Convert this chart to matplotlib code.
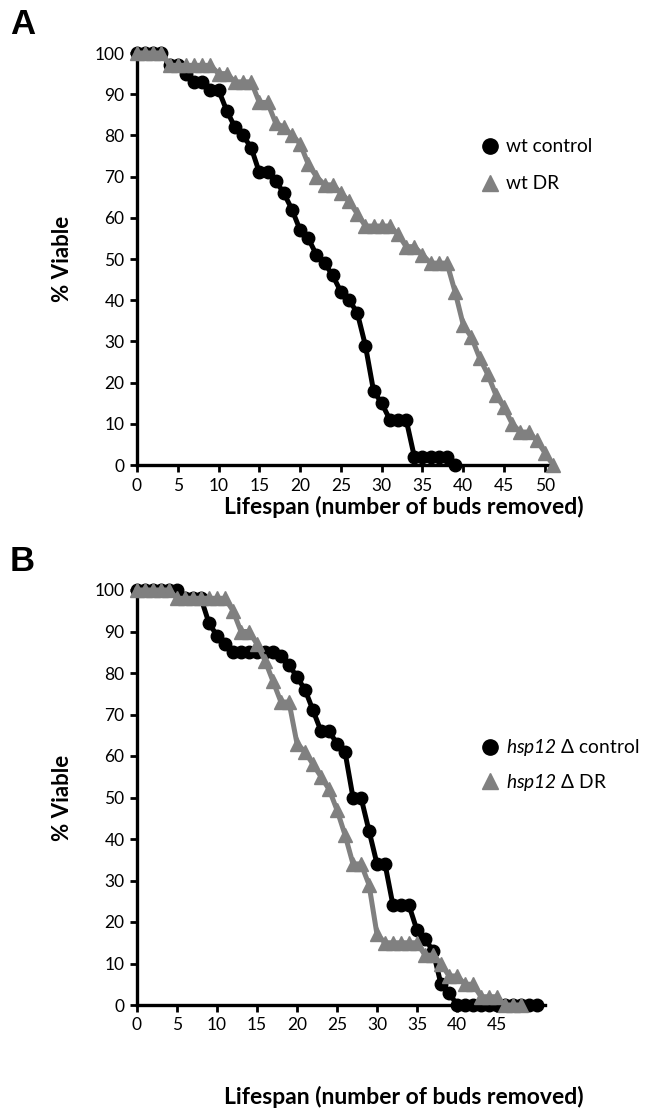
import matplotlib
matplotlib.use('Agg')
import matplotlib.pyplot as plt
from matplotlib.lines import Line2D

plt.rcParams['font.family'] = ['Lato', 'DejaVu Sans']
plt.rcParams['mathtext.fontset'] = 'custom'
plt.rcParams['mathtext.it'] = 'Lato:italic'
plt.rcParams['mathtext.rm'] = 'Lato:italic'

# --- Panel A: wild type ---
wt_ctrl_x = list(range(0, 40))
wt_ctrl_y = [100, 100, 100, 100, 97, 97, 95, 93, 93, 91,
             91, 86, 82, 80, 77, 71, 71, 69, 66, 62,
             57, 55, 51, 49, 46, 42, 40, 37, 29, 18,
             15, 11, 11, 11, 2, 2, 2, 2, 2, 0]

wt_dr_x = list(range(0, 52))
wt_dr_y = [100, 100, 100, 100, 97, 97, 97, 97, 97, 97,
           95, 95, 93, 93, 93, 88, 88, 83, 82, 80,
           78, 73, 70, 68, 68, 66, 64, 61, 58, 58,
           58, 58, 56, 53, 53, 51, 49, 49, 49, 42,
           34, 31, 26, 22, 17, 14, 10, 8, 8, 6,
           3, 0]

# --- Panel B: hsp12 deletion ---
hsp_ctrl_x = list(range(0, 51))
hsp_ctrl_y = [100, 100, 100, 100, 100, 100, 98, 98, 98, 92,
              89, 87, 85, 85, 85, 85, 85, 85, 84, 82,
              79, 76, 71, 66, 66, 63, 61, 50, 50, 42,
              34, 34, 24, 24, 24, 18, 16, 13, 5, 3,
              0, 0, 0, 0, 0, 0, 0, 0, 0, 0,
              0]

hsp_dr_x = list(range(0, 49))
hsp_dr_y = [100, 100, 100, 100, 100, 98, 98, 98, 98, 98,
            98, 98, 95, 90, 90, 87, 83, 78, 73, 73,
            63, 61, 58, 55, 52, 47, 41, 34, 34, 29,
            17, 15, 15, 15, 15, 15, 12, 12, 10, 7,
            7, 5, 5, 2, 2, 2, 0, 0, 0]

A_ticks = list(range(0, 51, 5))
B_ticks = list(range(0, 46, 5))
y_ticks = list(range(0, 101, 10))

W, H = 662, 1116
fig = plt.figure(figsize=(W / 100, H / 100), dpi=100)


def panel(rect, cx, cy, dx, dy, xticks, xmax, labels, leg_pos, leg_space, xlab_y):
    x0, y0, x1, y1 = rect
    ax = fig.add_axes([x0 / W, 1 - y1 / H, (x1 - x0) / W, (y1 - y0) / H])
    ax.plot(cx, cy, color='black', lw=3.6, marker='o', ms=9, clip_on=False, zorder=3)
    ax.plot(dx, dy, color='#808080', lw=3.6, marker='^', ms=9.5, clip_on=False, zorder=4)
    ax.set_xlim(0, xmax)
    ax.set_ylim(0, 100)
    ax.set_xticks(xticks)
    ax.set_yticks(y_ticks)
    for s in ['top', 'right']:
        ax.spines[s].set_visible(False)
    for s in ['left', 'bottom']:
        ax.spines[s].set_linewidth(2.4)
    ax.tick_params(width=2, length=5, labelsize=12.5, pad=4)
    ax.set_ylabel('% Viable', fontsize=16, fontweight='bold')
    ax.set_xlabel('Lifespan (number of buds removed)', fontsize=16.5, fontweight='bold')
    ax.yaxis.set_label_coords((73 - x0) / (x1 - x0), 0.5)
    ax.xaxis.set_label_coords((404 - x0) / (x1 - x0), (y1 - xlab_y) / (y1 - y0))
    handles = [Line2D([], [], color='black', marker='o', ls='none', ms=11),
               Line2D([], [], color='#808080', marker='^', ls='none', ms=11)]
    ax.legend(handles, labels, frameon=False, fontsize=13.75,
              bbox_to_anchor=(leg_pos[0] / W, 1 - leg_pos[1] / H),
              bbox_transform=fig.transFigure, loc='upper left',
              handletextpad=0.1, labelspacing=leg_space, handlelength=1.5)
    return ax


panel((137, 53, 553, 465), wt_ctrl_x, wt_ctrl_y, wt_dr_x, wt_dr_y, A_ticks, 51,
      ['wt control', 'wt DR'], (458, 121), 1.05, 496)
panel((137, 590, 545, 1005), hsp_ctrl_x, hsp_ctrl_y, hsp_dr_x, hsp_dr_y, B_ticks, 51,
      ['$hsp12$ Δ control', '$hsp12$ Δ DR'], (458, 720), 0.7, 1086)

fig.text(10 / W, 1 - 8 / H, 'A', fontsize=25, fontweight='bold', va='top', family='Liberation Sans')
fig.text(10 / W, 1 - 545 / H, 'B', fontsize=25, fontweight='bold', va='top', family='Liberation Sans')

fig.savefig('out.png', dpi=100)
